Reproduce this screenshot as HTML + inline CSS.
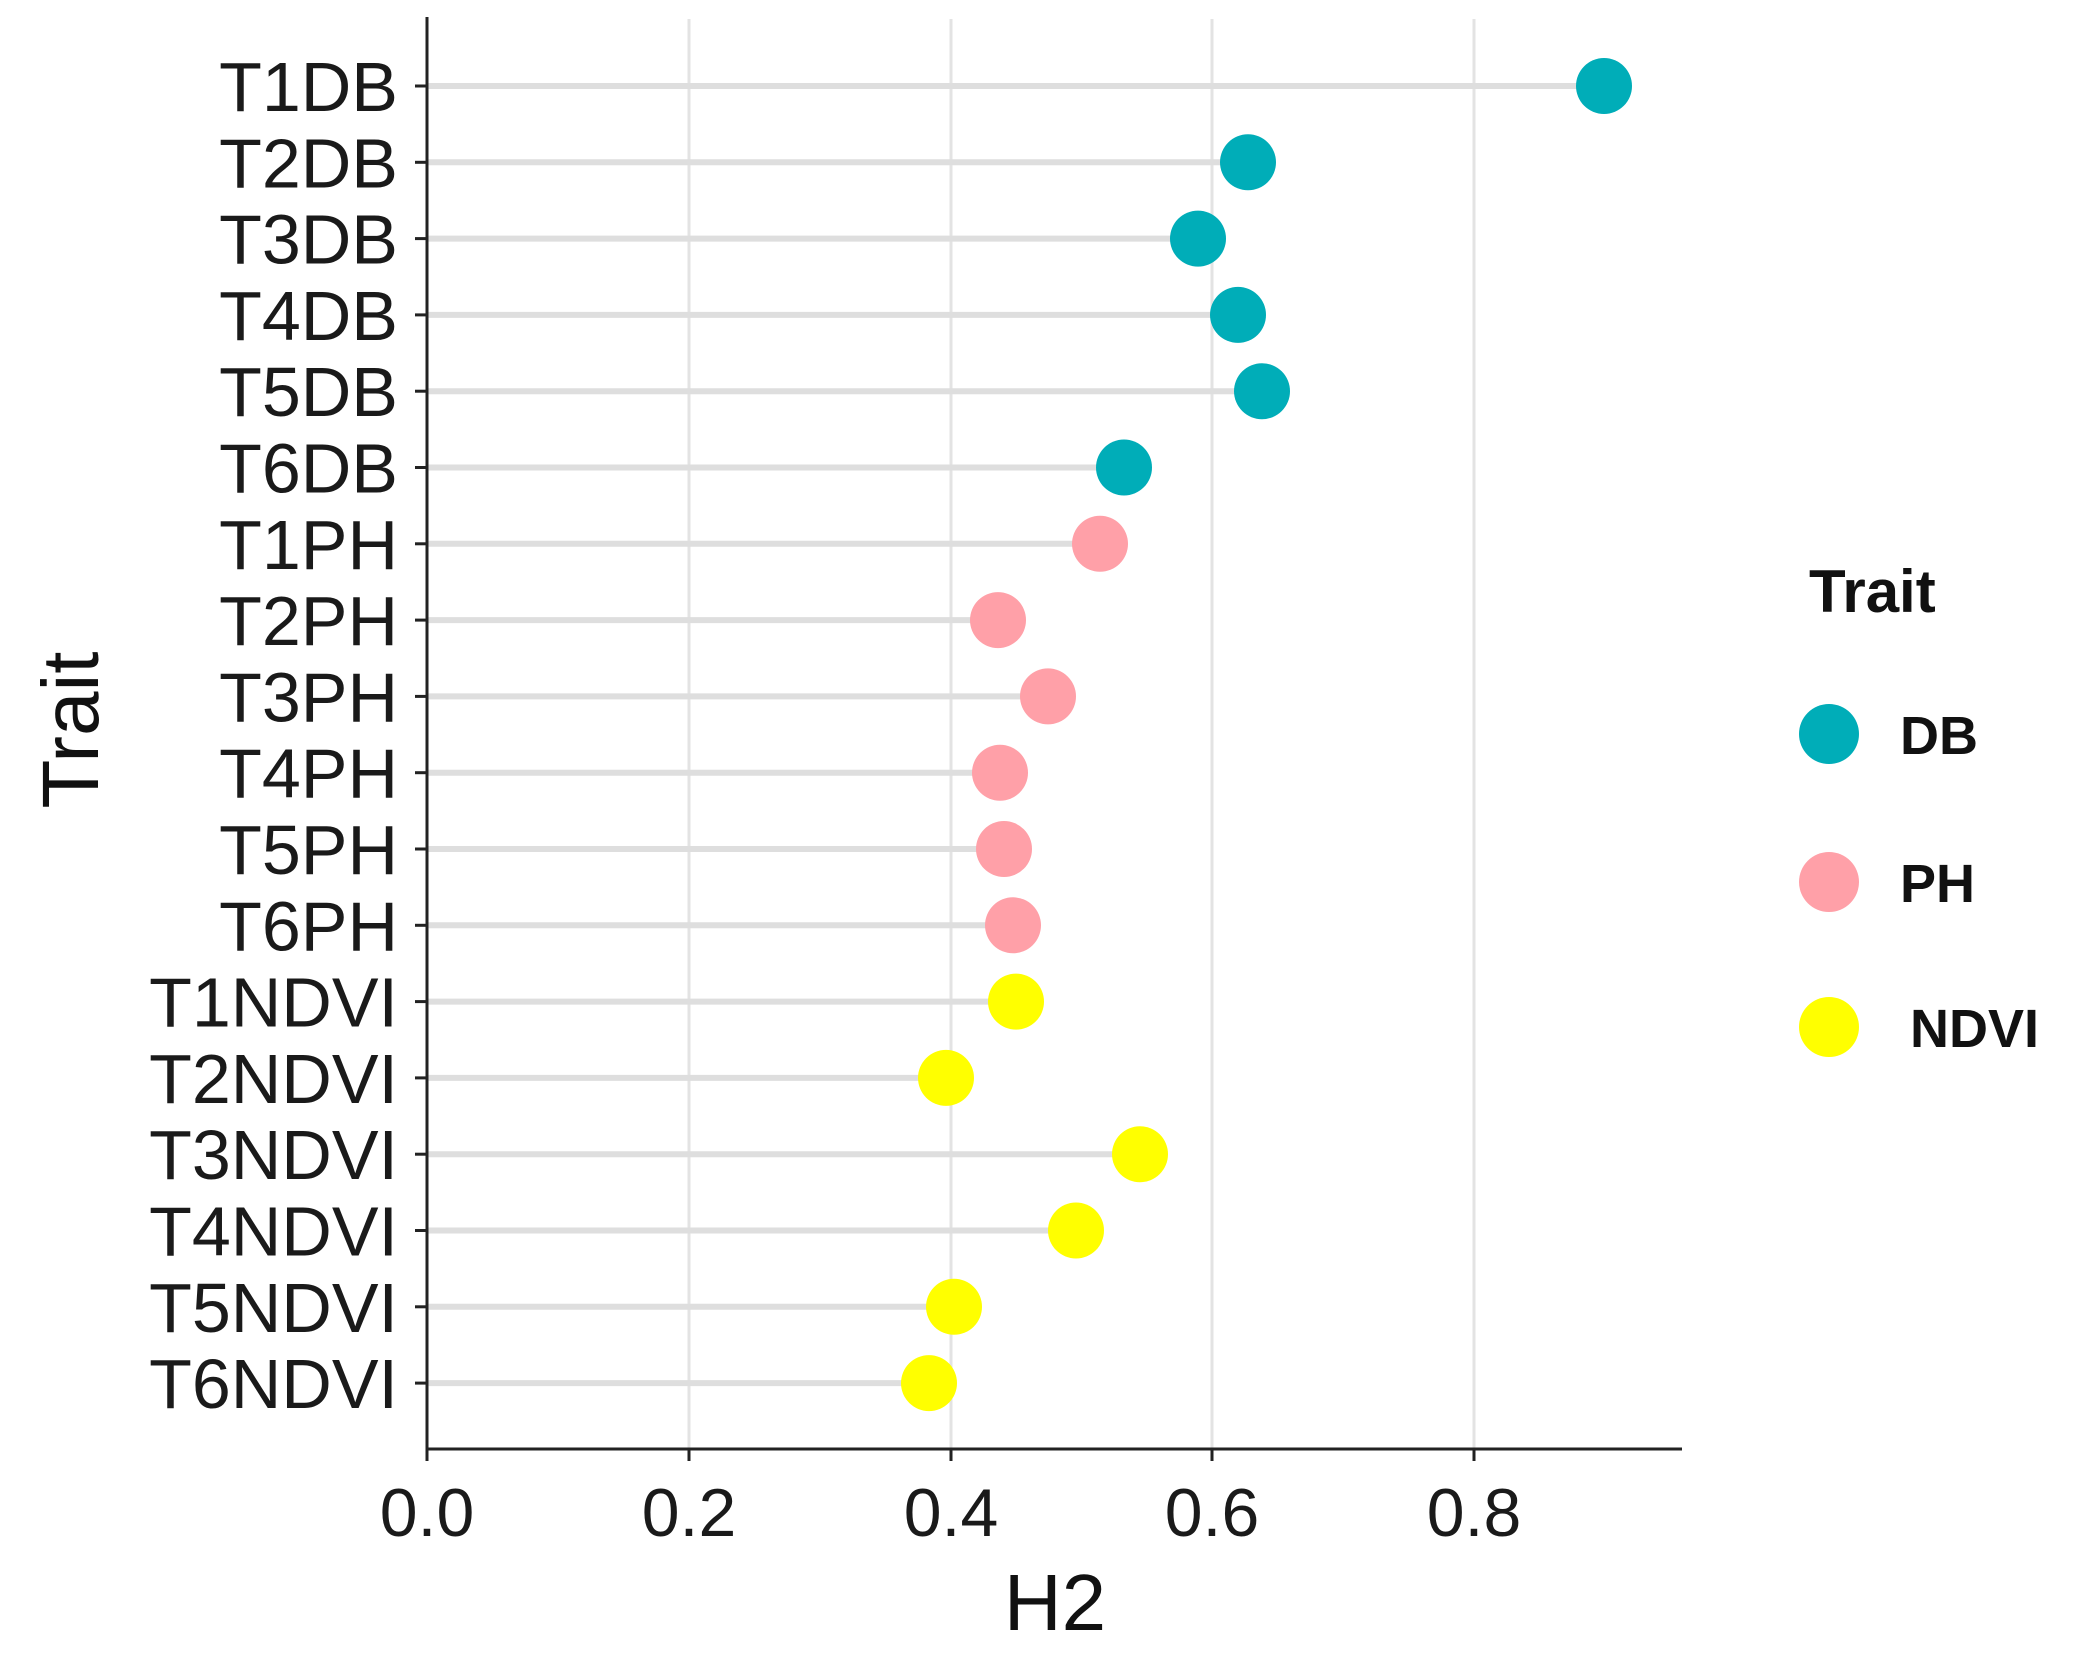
<!DOCTYPE html>
<html><head><meta charset="utf-8"><style>body{margin:0;background:#fff}svg{display:block}</style></head>
<body>
<svg width="2094" height="1667" viewBox="0 0 2094 1667" xmlns="http://www.w3.org/2000/svg" font-family="Liberation Sans, Arial, sans-serif">
<g stroke="#e3e3e3" stroke-width="3">
<line x1="689" y1="19" x2="689" y2="1449"/><line x1="951" y1="19" x2="951" y2="1449"/>
<line x1="1212" y1="19" x2="1212" y2="1449"/><line x1="1474" y1="19" x2="1474" y2="1449"/>
</g>
<g stroke="#dedede" stroke-width="6">
<line x1="427" y1="86" x2="1604" y2="86"/>
<line x1="427" y1="162.3" x2="1248" y2="162.3"/>
<line x1="427" y1="238.6" x2="1198" y2="238.6"/>
<line x1="427" y1="314.9" x2="1238" y2="314.9"/>
<line x1="427" y1="391.2" x2="1262" y2="391.2"/>
<line x1="427" y1="467.5" x2="1124" y2="467.5"/>
<line x1="427" y1="543.8" x2="1100" y2="543.8"/>
<line x1="427" y1="620.1" x2="998" y2="620.1"/>
<line x1="427" y1="696.4" x2="1048" y2="696.4"/>
<line x1="427" y1="772.7" x2="1000" y2="772.7"/>
<line x1="427" y1="849" x2="1004" y2="849"/>
<line x1="427" y1="925.3" x2="1013" y2="925.3"/>
<line x1="427" y1="1001.6" x2="1016" y2="1001.6"/>
<line x1="427" y1="1077.9" x2="946" y2="1077.9"/>
<line x1="427" y1="1154.2" x2="1140" y2="1154.2"/>
<line x1="427" y1="1230.5" x2="1076" y2="1230.5"/>
<line x1="427" y1="1306.8" x2="954" y2="1306.8"/>
<line x1="427" y1="1383.1" x2="929" y2="1383.1"/>
</g>
<g fill="#00adb8">
<circle cx="1604" cy="86" r="28"/><circle cx="1248" cy="162.3" r="28"/><circle cx="1198" cy="238.6" r="28"/><circle cx="1238" cy="314.9" r="28"/><circle cx="1262" cy="391.2" r="28"/><circle cx="1124" cy="467.5" r="28"/>
</g>
<g fill="#ffa0a8">
<circle cx="1100" cy="543.8" r="28"/><circle cx="998" cy="620.1" r="28"/><circle cx="1048" cy="696.4" r="28"/><circle cx="1000" cy="772.7" r="28"/><circle cx="1004" cy="849" r="28"/><circle cx="1013" cy="925.3" r="28"/>
</g>
<g fill="#ffff00">
<circle cx="1016" cy="1001.6" r="28"/><circle cx="946" cy="1077.9" r="28"/><circle cx="1140" cy="1154.2" r="28"/><circle cx="1076" cy="1230.5" r="28"/><circle cx="954" cy="1306.8" r="28"/><circle cx="929" cy="1383.1" r="28"/>
</g>
<g stroke="#222" stroke-width="3">
<line x1="415" y1="86" x2="427" y2="86"/><line x1="415" y1="162.3" x2="427" y2="162.3"/><line x1="415" y1="238.6" x2="427" y2="238.6"/><line x1="415" y1="314.9" x2="427" y2="314.9"/><line x1="415" y1="391.2" x2="427" y2="391.2"/><line x1="415" y1="467.5" x2="427" y2="467.5"/><line x1="415" y1="543.8" x2="427" y2="543.8"/><line x1="415" y1="620.1" x2="427" y2="620.1"/><line x1="415" y1="696.4" x2="427" y2="696.4"/><line x1="415" y1="772.7" x2="427" y2="772.7"/><line x1="415" y1="849" x2="427" y2="849"/><line x1="415" y1="925.3" x2="427" y2="925.3"/><line x1="415" y1="1001.6" x2="427" y2="1001.6"/><line x1="415" y1="1077.9" x2="427" y2="1077.9"/><line x1="415" y1="1154.2" x2="427" y2="1154.2"/><line x1="415" y1="1230.5" x2="427" y2="1230.5"/><line x1="415" y1="1306.8" x2="427" y2="1306.8"/><line x1="415" y1="1383.1" x2="427" y2="1383.1"/>
</g>
<g font-size="70" text-anchor="end" fill="#1a1a1a">
<text x="398" y="111">T1DB</text><text x="398" y="187.3">T2DB</text><text x="398" y="263.6">T3DB</text><text x="398" y="339.9">T4DB</text><text x="398" y="416.2">T5DB</text><text x="398" y="492.5">T6DB</text>
<text x="398" y="568.8">T1PH</text><text x="398" y="645.1">T2PH</text><text x="398" y="721.4">T3PH</text><text x="398" y="797.7">T4PH</text><text x="398" y="874">T5PH</text><text x="398" y="950.3">T6PH</text>
<text x="398" y="1026.6">T1NDVI</text><text x="398" y="1102.9">T2NDVI</text><text x="398" y="1179.2">T3NDVI</text><text x="398" y="1255.5">T4NDVI</text><text x="398" y="1331.8">T5NDVI</text><text x="398" y="1408.1">T6NDVI</text>
</g>
<line x1="427" y1="17" x2="427" y2="1450" stroke="#222" stroke-width="3"/>
<line x1="426" y1="1449" x2="1682" y2="1449" stroke="#222" stroke-width="3"/>
<g stroke="#222" stroke-width="3">
<line x1="427" y1="1449" x2="427" y2="1461"/><line x1="689" y1="1449" x2="689" y2="1461"/><line x1="951" y1="1449" x2="951" y2="1461"/><line x1="1212" y1="1449" x2="1212" y2="1461"/><line x1="1474" y1="1449" x2="1474" y2="1461"/>
</g>
<g font-size="68" fill="#1a1a1a" text-anchor="middle">
<text x="427" y="1536">0.0</text><text x="689" y="1536">0.2</text><text x="951" y="1536">0.4</text><text x="1212" y="1536">0.6</text><text x="1474" y="1536">0.8</text>
</g>
<text x="1055" y="1630" font-size="80" text-anchor="middle" fill="#111">H2</text>
<text transform="translate(98,730) rotate(-90)" font-size="80" text-anchor="middle" fill="#111">Trait</text>
<text x="1809" y="612" font-size="60" font-weight="bold" fill="#111">Trait</text>
<circle cx="1829" cy="734" r="30" fill="#00adb8"/><text x="1900" y="754" font-size="54" font-weight="bold" fill="#111">DB</text>
<circle cx="1829" cy="882" r="30" fill="#ffa0a8"/><text x="1900" y="902" font-size="54" font-weight="bold" fill="#111">PH</text>
<circle cx="1829" cy="1027" r="30" fill="#ffff00"/><text x="1910" y="1047" font-size="54" font-weight="bold" fill="#111">NDVI</text>
</svg>
</body></html>
